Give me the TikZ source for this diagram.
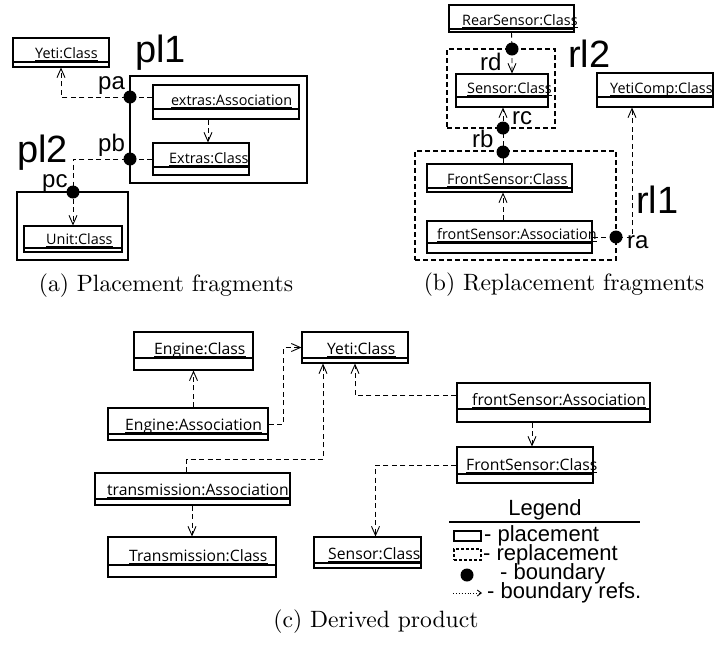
\documentclass[tikz,border=0pt]{standalone}
\usepackage{fontspec}
\newfontfamily\clsfam{Open Sans}
\newfontfamily\lblfam{Liberation Sans}
\usetikzlibrary{arrows.meta, fit}

\newcommand{\lgdfont}{\lblfam\fontsize{22}{19}\selectfont\lineskiplimit=-100pt\relax}

\tikzset{
  clsbox/.style={draw, line width=1.1pt, inner sep=0pt},
  clsline/.style={line width=1.1pt},
  clsname/.style={font=\clsfam\fontsize{14.4}{16}\selectfont, inner sep=0pt, anchor=base west},
  ref/.style={dash pattern=on 5pt off 3.5pt, line width=0.9pt},
  placebox/.style={draw, line width=2.6pt, inner sep=0pt},
  replbox/.style={draw, line width=2.4pt, dash pattern=on 5pt off 3pt, inner sep=0pt},
  bnd/.style={circle, fill, inner sep=0pt, minimum size=13pt},
  biglbl/.style={font=\lblfam\fontsize{38}{40}\selectfont, inner sep=0pt, anchor=base west},
  smalllbl/.style={font=\lblfam\fontsize{24}{26}\selectfont, inner sep=0pt, anchor=base west},
  lgd/.style={font=\lgdfont, inner sep=0pt, anchor=base west},
  caption/.style={font=\fontsize{10}{12}\selectfont, scale=2.36, inner sep=0pt, anchor=base},
}

% UML-Klasse: Name, x1, y1, x2, y2, Trennlinie, Text-x, Text
\newcommand{\umlclass}[8]{%
  \node[clsbox, fit={(#2,#3) (#4,#5)}] (#1) {};
  \draw[clsline] (#2,#6) -- (#4,#6);
  \node[clsname] (#1-t) at (#7,#6-4) {#8};
  \draw[line width=0.8pt] ([yshift=-2pt]#1-t.base west) -- ([yshift=-2pt]#1-t.base east);
}

\begin{document}
\begin{tikzpicture}[x=1pt, y=-1pt, >={Straight Barb[length=9pt,width=8pt]}]
  \useasboundingbox (0,0) rectangle (715,646);
  % (a) Platzierungsfragmente
  \node[placebox, fit={(130,76) (307,183)}] (plOne) {};
  \node[placebox, fit={(17,192) (128,260)}] (plTwo) {};
  \umlclass{yetiA}{13}{38}{109}{67}{62}{35}{Yeti:Class}
  \umlclass{extrasA}{153}{85}{299}{119}{109}{171}{extras:Association}
  \umlclass{extrasC}{153}{143}{249}{175}{167}{169}{Extras:Class}
  \umlclass{unitC}{24}{226}{122}{252}{248}{46}{Unit:Class}
  \node[bnd] (pa) at (130,97) {};
  \node[bnd] (pb) at (130,159) {};
  \node[bnd] (pc) at (73,192) {};
  \node[biglbl] (plOneL) at (135,62) {pl1};
  \node[biglbl] (plTwoL) at (17,162) {pl2};
  \node[smalllbl] (paL) at (98,89) {pa};
  \node[smalllbl] (pbL) at (98,151) {pb};
  \node[smalllbl] (pcL) at (42,187) {pc};
  \draw[ref,->] (pa -| extrasA.west) -- (pa.center) -| (yetiA.south);
  \draw[ref,->] (pb -| extrasC.west) -- (pb.center) -| (unitC.north);
  \draw[ref,->] ([xshift=7pt]extrasC.north |- extrasA.south) -- ([xshift=7pt]extrasC.north);
  \node[caption] (capA) at (166,291) {(a) Placement fragments};

  % (b) Ersetzungsfragmente
  \node[replbox, fit={(447,49) (555,128)}] (rlTwo) {};
  \node[replbox, fit={(415,151) (616,260)}] (rlOne) {};
  \umlclass{rearB}{449}{5}{574}{32}{29}{462}{RearSensor:Class}
  \umlclass{sensorB}{456}{74}{548}{107}{97}{467}{Sensor:Class}
  \umlclass{ycompB}{597}{73}{713}{107}{97}{610}{YetiComp:Class}
  \umlclass{frontB}{427}{164}{572}{192}{188}{447}{FrontSensor:Class}
  \umlclass{fsaB}{427}{221}{592}{253}{243}{437}{frontSensor:Association}
  \node[bnd] (rd) at (512,49) {};
  \node[bnd] (rc) at (503,128) {};
  \node[bnd] (rb) at (503,152) {};
  \node[bnd] (ra) at (616,237) {};
  \node[biglbl] (rlTwoL) at (568,67) {rl2};
  \node[biglbl] (rlOneL) at (636,213) {rl1};
  \node[smalllbl] (rdL) at (480,70) {rd};
  \node[smalllbl] (rcL) at (512,124) {rc};
  \node[smalllbl] (rbL) at (472,147) {rb};
  \node[smalllbl] (raL) at (627,248) {ra};
  \draw[ref,->] (rearB.south) -- (rd.center) -- (rd |- sensorB.north);
  \draw[ref,->] (rb |- frontB.north) -- (rb.center) -- (rc.center) -- (rc |- sensorB.south);
  \draw[ref,->] (rb |- fsaB.north) -- (rb |- frontB.south);
  \draw[ref,->] (fsaB.east) -- (ra.center) -| ([xshift=-23pt]ycompB.south);
  \node[caption] (capB) at (564,290.5) {(b) Replacement fragments};

  % (c) Abgeleitetes Produkt
  \begin{scope}[clsname/.append style={font=\clsfam\fontsize{15.7}{18}\selectfont}]
    \umlclass{engineC}{134}{332}{253}{370}{358}{154}{Engine:Class}
    \umlclass{yetiC}{302}{332}{408}{363}{358}{327}{Yeti:Class}
    \umlclass{engineA}{108}{408}{268}{440}{434}{125}{Engine:Association}
    \umlclass{transA}{95}{473}{290}{505}{499}{107}{transmission:Association}
    \umlclass{transC}{108}{537}{276}{577}{565}{129}{Transmission:Class}
    \umlclass{fsaC}{457}{383}{650}{422}{409}{472}{frontSensor:Association}
    \umlclass{frontC}{457}{447}{593}{483}{474}{466}{FrontSensor:Class}
    \umlclass{sensorC}{314}{537}{421}{568}{563}{328}{Sensor:Class}
  \end{scope}
  \draw[ref,->] (engineC.south |- engineA.north) -- (engineC.south);
  \draw[ref,->] (engineA.east) -- ++(15,0) |- (yetiC.west);
  \draw[ref,->] ([xshift=-6pt]transA.north) -- ++(0,-13) -| ([xshift=-32pt]yetiC.south);
  \draw[ref,->] ([yshift=7pt]fsaC.west) -| (yetiC.south);
  \draw[ref,->] ([xshift=7pt]frontC.north |- fsaC.south) -- ([xshift=7pt]frontC.north);
  \draw[ref,->] (frontC.west) -| ([xshift=8pt]sensorC.north);
  \draw[ref,->] (transC.north |- transA.south) -- (transC.north);
  \node[caption] (capC) at (376,627) {(c) Derived product};

  % Legende
  \node[lgd, anchor=base] (lgdT) at (545,515) {Legend};
  \draw[line width=2pt] (449,522) -- (640,522);
  \node[draw, line width=2pt, inner sep=0pt, fit={(454,531) (481,541)}] (lgdPl) {};
  \node[draw, line width=2pt, dash pattern=on 3pt off 2pt, inner sep=0pt, fit={(454,549) (481,560)}] (lgdRe) {};
  \node[bnd] (lgdB) at (467,575) {};
  \coordinate (lgdA1) at (453,593);
  \coordinate (lgdA2) at (482,593);
  \draw[dotted, line width=0.9pt, -{Straight Barb[length=4pt,width=6pt]}] (lgdA1) -- (lgdA2);
  \node[lgd, align=left] (lgdTxt) at (484,598) {- placement\\
    \hspace*{-1pt}- replacement\\
    \hspace*{16pt}- boundary\\
    \hspace*{3pt}- boundary refs.};
\end{tikzpicture}
\end{document}
